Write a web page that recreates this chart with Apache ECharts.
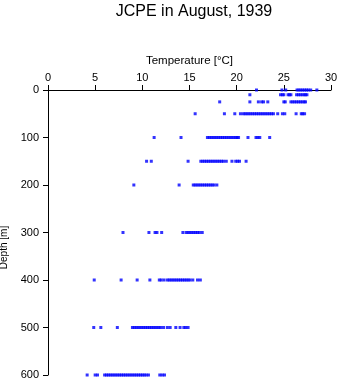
<!DOCTYPE html>
<html>
<head>
<meta charset="utf-8">
<script src="https://cdn.jsdelivr.net/npm/echarts@6/dist/echarts.min.js"></script>
<style>html,body{margin:0;padding:0;background:#fff;}#c{width:341px;height:384px;}</style>
</head>
<body>
<div id="c"></div>
<script>
var depths = [0, 10, 25, 50, 100, 150, 200, 300, 400, 500, 600];
var t0 = [22.1, 24.8, 25.2, 26.4, 26.6, 26.8, 27.0, 27.2, 27.4, 27.6, 27.85, 28.5];
var t10 = [21.4, 24.65, 24.85, 25.0, 25.45, 25.6, 25.75, 26.35, 26.55, 26.75, 26.95, 27.15, 27.3, 27.45];
var t25 = [18.2, 21.4, 22.3, 22.65, 22.85, 23.3, 25.0, 25.15, 25.75, 25.95, 26.15, 26.35, 26.55, 26.75, 26.95, 27.15, 27.3];
var t50 = [15.6, 18.7, 19.8, 20.4, 20.7, 20.9, 21.1, 21.3, 21.5, 21.7, 21.9, 22.1, 22.3, 22.5, 22.7, 22.9, 23.1, 23.3, 23.5, 23.7, 23.9, 24.35, 24.85, 25.1, 26.3, 26.85, 27.0, 27.2];
var t100 = [11.25, 14.1, 16.9, 17.1, 17.3, 17.5, 17.7, 17.9, 18.1, 18.3, 18.5, 18.7, 18.9, 19.1, 19.3, 19.5, 19.7, 19.9, 20.05, 20.2, 21.2, 22.05, 22.25, 22.45, 23.5];
var t150 = [10.45, 10.95, 14.85, 16.2, 16.4, 16.6, 16.8, 17.0, 17.2, 17.4, 17.6, 17.8, 18.0, 18.2, 18.4, 18.6, 18.9, 19.5, 19.9, 20.1, 20.3, 21.0];
var t200 = [9.1, 13.9, 15.4, 15.6, 15.8, 16.0, 16.2, 16.4, 16.6, 16.8, 17.0, 17.2, 17.4, 17.6, 17.9];
var t300 = [7.95, 10.7, 11.35, 11.55, 12.05, 14.3, 14.65, 14.85, 15.05, 15.25, 15.45, 15.65, 15.85, 16.05, 16.35];
var t400 = [4.9, 7.75, 9.45, 10.8, 11.8, 12.0, 12.3, 12.65, 12.85, 13.05, 13.25, 13.45, 13.65, 13.85, 14.05, 14.25, 14.45, 14.65, 14.85, 15.05, 15.35, 15.85, 16.15];
var t500 = [4.85, 5.6, 7.35, 8.95, 9.15, 9.35, 9.55, 9.75, 9.95, 10.15, 10.35, 10.55, 10.75, 10.95, 11.15, 11.35, 11.55, 11.75, 11.95, 12.25, 12.65, 12.95, 13.55, 14.0, 14.4, 14.6, 14.85];
var t600 = [4.15, 5.0, 5.25, 6.0, 6.2, 6.4, 6.6, 6.8, 7.0, 7.2, 7.4, 7.6, 7.8, 8.0, 8.2, 8.4, 8.6, 8.8, 9.0, 9.2, 9.4, 9.6, 9.8, 10.0, 10.2, 10.4, 10.65, 11.85, 12.1, 12.35];
var temps = [t0, t10, t25, t50, t100, t150, t200, t300, t400, t500, t600];

var data = [];
for (var i = 0; i < depths.length; i++) {
  for (var j = 0; j < temps[i].length; j++) data.push([temps[i][j], depths[i]]);
}

var font = 'Liberation Sans, Arial, sans-serif';
var chart = echarts.init(document.getElementById('c'));
chart.setOption({
  animation: false,
  backgroundColor: '#fff',
  title: {
    text: 'JCPE in August, 1939',
    left: 189, textAlign: 'center', top: -1,
    textStyle: { fontFamily: font, fontSize: 16, fontWeight: 'normal', color: '#000' }
  },
  grid: { left: 48, right: 10, top: 90, bottom: 9, containLabel: false, outerBoundsMode: 'none' },
  xAxis: {
    type: 'value', position: 'top', min: 0, max: 30, interval: 5,
    name: 'Temperature [°C]', nameLocation: 'middle', nameGap: 23,
    nameTextStyle: { fontFamily: font, fontSize: 11.5, color: '#000' },
    axisLine: { show: true, onZero: false, lineStyle: { color: '#000', width: 1 } },
    axisTick: { show: true, length: 5, lineStyle: { color: '#000' } },
    axisLabel: { fontFamily: font, fontSize: 11, color: '#000', margin: 7 },
    splitLine: { show: false }
  },
  yAxis: {
    type: 'value', inverse: true, min: 0, max: 600, interval: 100,
    name: 'Depth [m]', nameLocation: 'middle', nameGap: 35,
    nameTextStyle: { fontFamily: font, fontSize: 10, color: '#000', padding: [0, 30, 0, 0] },
    axisLine: { show: true, onZero: false, lineStyle: { color: '#000', width: 1 } },
    axisTick: { show: true, length: 5, lineStyle: { color: '#000' } },
    axisLabel: { fontFamily: font, fontSize: 11, color: '#000', margin: 9 },
    splitLine: { show: false }
  },
  series: [{
    type: 'scatter',
    data: data,
    symbol: 'rect',
    symbolSize: 3,
    clip: false,
    itemStyle: { color: '#0000ff' }
  }]
});
</script>
</body>
</html>
